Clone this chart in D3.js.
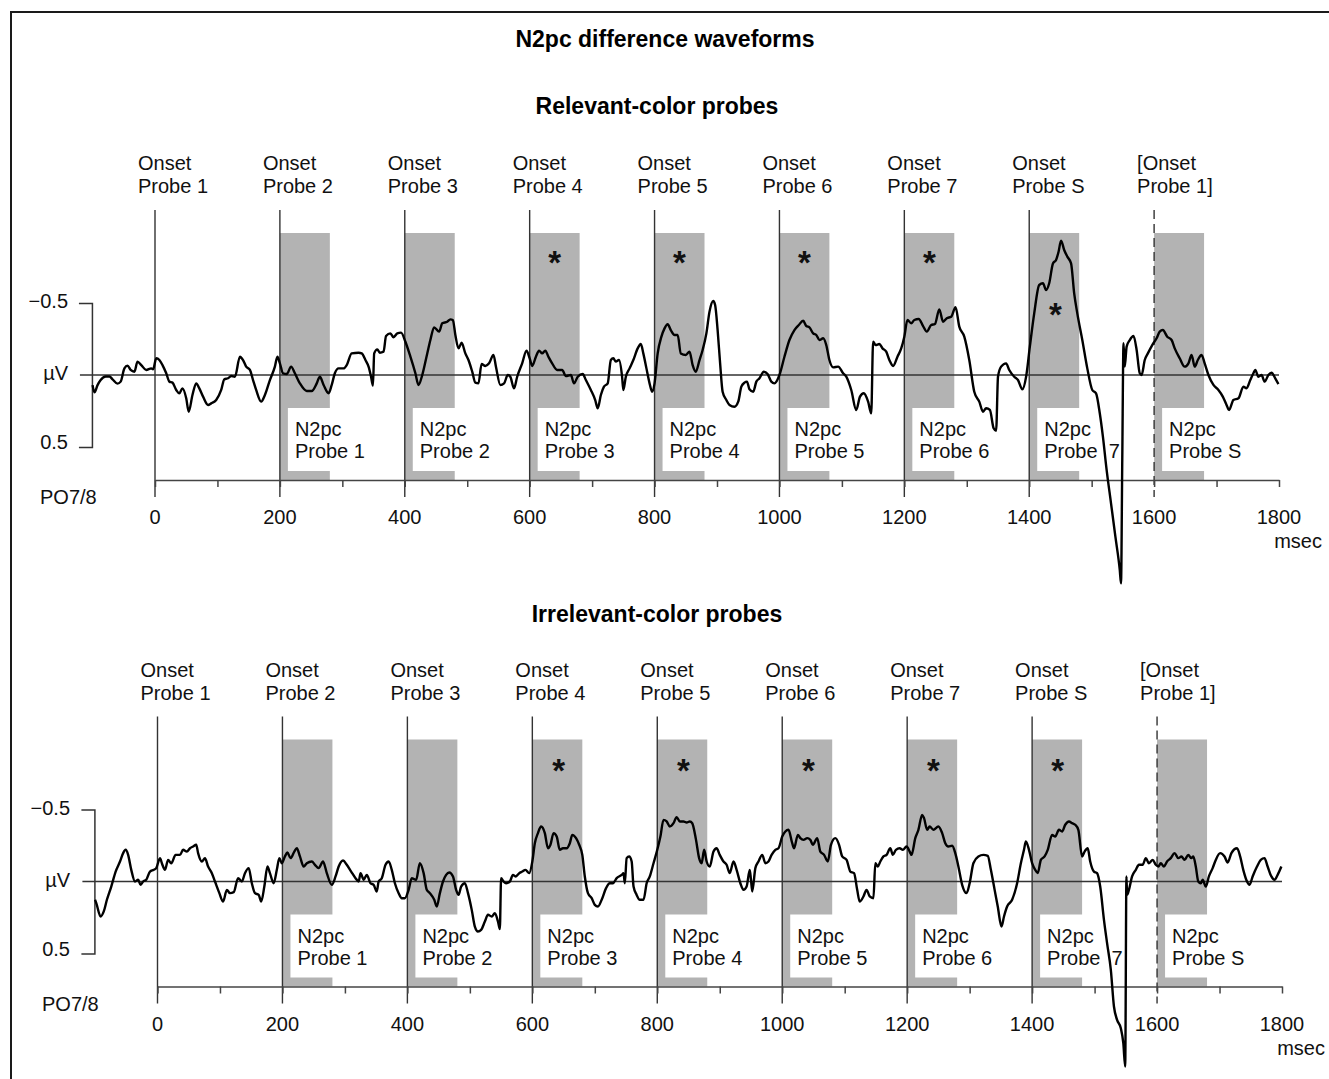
<!DOCTYPE html>
<html><head><meta charset="utf-8">
<script src="https://cdn.jsdelivr.net/npm/d3@7"></script>
<style>
html,body{margin:0;padding:0;background:#fff;}
svg text{font-family:"Liberation Sans",Arial,Helvetica,sans-serif;}
</style></head>
<body>
<svg id="chart" width="1329" height="1079"></svg>
<script>
// ---------------- DATA ----------------
const figureTitle = "N2pc difference waveforms";
const panelTitles = ["Relevant-color probes", "Irrelevant-color probes"];
const onsets = [0, 200, 400, 600, 800, 1000, 1200, 1400, 1600];
const onsetLabels = [["Onset","Probe 1"],["Onset","Probe 2"],["Onset","Probe 3"],["Onset","Probe 4"],["Onset","Probe 5"],["Onset","Probe 6"],["Onset","Probe 7"],["Onset","Probe S"],["[Onset","Probe 1]"]];
const windowStarts = [200, 400, 600, 800, 1000, 1200, 1400, 1600];
const windowLength = 80;
const windowLabels = [["N2pc","Probe 1"],["N2pc","Probe 2"],["N2pc","Probe 3"],["N2pc","Probe 4"],["N2pc","Probe 5"],["N2pc","Probe 6"],["N2pc","Probe  7"],["N2pc","Probe S"]];
const xTickValues = [0,100,200,300,400,500,600,700,800,900,1000,1100,1200,1300,1400,1500,1600,1700,1800];
const xLabelValues = [0,200,400,600,800,1000,1200,1400,1600,1800];
const yTickLabels = ["\u22120.5","\u00b5V","0.5"];
const channelLabel = "PO7/8";
const unitLabel = "msec";
// asterisks: [ms, µV level]
const relevantStars = [[640,-0.83],[840,-0.83],[1040,-0.83],[1240,-0.83],[1442,-0.47]];
const irrelevantStars = [[642,-0.82],[842,-0.82],[1042,-0.82],[1242,-0.82],[1441,-0.82]];

// waveform: [ms, µV]  (negative plotted upward)
const relevantWave = [
[-100,0.07],[-97,0.12],[-92,0.07],[-87,0.035],[-79,0.01],[-73,0.01],[-68,0.03],[-60,0.06],[-55,0.046],[-49,-0.046],[-44,-0.065],[-39,-0.035],[-33,-0.023],[-28,-0.093],[-22,-0.069],[-14,-0.035],[-6,-0.046],[-3,-0.039],
[2,-0.116],[7,-0.104],[12,-0.069],[18,-0.012],[23,0.046],[28,0.053],[34,0.104],[39,0.127],[44,0.093],[50,0.162],[54,0.255],[60,0.139],[66,0.058],[71,0.093],[77,0.150],[85,0.208],[90,0.197],[98,0.174],
[106,0.104],[111,0.03],[117,0.023],[122,0.007],[128,0.012],[136,-0.127],[141,-0.104],[146,-0.058],[152,-0.035],[157,0.035],[162,0.104],[170,0.185],[176,0.139],[184,0.035],[192,-0.058],[196,-0.127],
[200,-0.081],[205,-0.012],[211,-0.007],[218,-0.058],[224,-0.012],[232,0.058],[243,0.111],[251,0.111],[259,0.058],[264,0.012],[270,0.069],[278,0.127],[283,0.069],[288,-0.012],[294,-0.046],
[302,-0.046],[307,-0.069],[315,-0.150],[326,-0.155],[331,-0.150],[337,-0.104],[342,-0.058],[346,0.012],[349,0.074],[351,-0.150],[356,-0.178],[360,-0.155],[366,-0.162],[370,-0.271],[377,-0.289],[382,-0.262],[388,-0.289],[394,-0.294],
[401,-0.231],[409,-0.127],[417,-0.012],[422,0.069],[428,0.0],[436,-0.150],[441,-0.243],[447,-0.331],[455,-0.301],[460,-0.359],[468,-0.370],[473,-0.386],[477,-0.382],[481,-0.278],[486,-0.185],[491,-0.224],[497,-0.150],
[502,-0.104],[508,-0.023],[513,0.053],[518,0.058],[523,-0.076],[529,-0.063],[535,-0.081],[542,-0.139],[546,-0.058],[553,0.069],[559,0.058],[565,0.0],[569,0.012],[575,0.093],[580,0.012],[588,-0.081],[595,-0.169],
[600,-0.116],[604,-0.063],[610,-0.127],[615,-0.169],[620,-0.150],[625,-0.169],[630,-0.127],[636,-0.081],[644,-0.035],[652,-0.035],[658,0.007],[666,0.0],[671,0.058],[677,0.012],[685,-0.007],[690,0.035],[698,0.104],
[705,0.174],[709,0.231],[714,0.139],[719,0.081],[725,0.058],[730,-0.104],[734,-0.116],[738,-0.093],[743,-0.104],[748,0.012],[750,0.104],[754,0.012],[760,-0.046],[766,-0.104],[773,-0.185],[778,-0.215],[782,-0.150],[787,-0.046],[792,0.058],[796,0.116],
[800,0.058],[805,-0.150],[811,-0.266],[816,-0.324],[821,-0.352],[826,-0.312],[832,-0.278],[837,-0.278],[842,-0.150],[850,-0.139],[856,-0.162],[861,-0.069],[866,-0.023],[872,-0.104],[877,-0.174],[883,-0.289],[888,-0.440],[894,-0.514],[897,-0.486],
[901,-0.312],[905,-0.081],[909,0.116],[915,0.174],[920,0.208],[928,0.220],[934,0.185],[939,0.081],[944,0.053],[948,0.046],[952,0.099],[958,0.116],[963,0.046],[968,0.023],[975,-0.023],[981,-0.007],[987,0.046],[992,0.058],
[1000,0.0],[1008,-0.127],[1016,-0.243],[1024,-0.312],[1031,-0.347],[1038,-0.377],[1043,-0.340],[1048,-0.331],[1054,-0.289],[1059,-0.278],[1064,-0.243],[1070,-0.255],[1075,-0.208],[1080,-0.104],[1086,-0.053],[1094,-0.058],
[1102,-0.012],[1107,0.012],[1115,0.104],[1123,0.243],[1129,0.150],[1135,0.127],[1142,0.185],[1147,0.266],[1150,-0.231],[1154,-0.208],[1160,-0.215],[1165,-0.185],[1171,-0.162],[1176,-0.104],[1182,-0.063],[1189,-0.127],[1195,-0.185],
[1200,-0.266],[1205,-0.382],[1211,-0.359],[1216,-0.382],[1223,-0.389],[1230,-0.340],[1236,-0.301],[1243,-0.347],[1249,-0.354],[1256,-0.456],[1262,-0.370],[1268,-0.394],[1275,-0.405],[1282,-0.470],[1288,-0.336],[1296,-0.266],
[1304,-0.104],[1312,0.116],[1320,0.185],[1326,0.255],[1331,0.231],[1337,0.243],[1343,0.370],[1347,0.387],[1350,0.012],[1355,-0.058],[1363,-0.081],[1368,-0.035],[1376,0.012],[1382,0.035],[1389,0.100],[1395,0.012],
[1401,-0.197],[1408,-0.428],[1416,-0.625],[1422,-0.637],[1427,-0.590],[1432,-0.637],[1438,-0.775],[1443,-0.799],[1447,-0.856],[1451,-0.933],[1456,-0.868],[1461,-0.822],[1467,-0.775],[1472,-0.567],[1477,-0.428],[1485,-0.243],[1493,-0.046],
[1501,0.104],[1507,0.127],[1513,0.266],[1518,0.428],[1524,0.660],[1531,0.891],[1538,1.123],[1545,1.354],[1547,1.447],[1549,0.590],[1551,-0.220],[1553,-0.058],[1556,-0.197],[1561,-0.243],[1567,-0.271],[1572,-0.174],[1577,-0.012],[1580,0.0],[1585,-0.104],[1590,-0.150],[1597,-0.208],
[1604,-0.255],[1609,-0.301],[1614,-0.312],[1621,-0.266],[1628,-0.243],[1633,-0.185],[1641,-0.116],[1649,-0.058],[1655,-0.081],[1660,-0.139],[1665,-0.058],[1670,-0.104],[1676,-0.139],[1681,-0.081],[1687,0.0],[1695,0.069],
[1703,0.104],[1710,0.150],[1716,0.208],[1720,0.243],[1727,0.174],[1735,0.162],[1743,0.081],[1748,0.093],[1754,0.035],[1759,-0.012],[1762,-0.035],[1767,0.012],[1772,0.0],[1777,0.046],[1783,0.0],[1788,-0.016],[1794,0.023],[1799,0.063]
];

const irrelevantWave = [
[-100,0.127],[-98,0.150],[-91,0.243],[-86,0.208],[-81,0.127],[-74,0.035],[-67,-0.069],[-60,-0.139],[-55,-0.197],[-51,-0.220],[-47,-0.185],[-42,-0.081],[-36,0.0],[-31,-0.012],[-27,0.023],[-23,0.0],[-18,-0.012],[-12,-0.069],[-6,-0.081],[-2,-0.093],
[4,-0.162],[7,-0.127],[12,-0.081],[17,-0.150],[22,-0.127],[29,-0.185],[36,-0.185],[41,-0.220],[47,-0.208],[52,-0.231],[57,-0.243],[62,-0.255],[65,-0.197],[71,-0.139],[76,-0.162],[81,-0.104],[87,-0.058],[92,0.0],[99,0.081],
[105,0.139],[111,0.058],[116,0.081],[122,0.074],[129,-0.023],[135,0.0],[140,-0.058],[146,-0.093],[151,0.012],[156,0.081],[162,0.093],[166,0.139],[171,0.035],[176,-0.104],[180,-0.058],[186,0.012],[191,-0.081],[195,-0.162],[199,-0.127],
[204,-0.174],[208,-0.201],[213,-0.162],[219,-0.208],[223,-0.231],[228,-0.174],[234,-0.104],[239,-0.127],[247,-0.139],[252,-0.116],[258,-0.093],[265,-0.139],[271,-0.058],[279,0.023],[285,-0.035],[290,-0.104],[297,-0.146],
[303,-0.116],[310,-0.069],[317,-0.023],[322,0.0],[325,-0.058],[330,-0.012],[335,-0.046],[341,0.012],[346,0.023],[351,0.069],[354,0.0],[359,-0.023],[365,-0.116],[370,-0.139],[375,-0.081],[380,0.012],[386,0.081],[391,0.116],[396,0.116],
[402,0.058],[407,-0.023],[414,-0.012],[420,-0.127],[426,-0.058],[431,0.058],[436,0.081],[443,0.127],[447,0.174],[452,0.081],[457,0.0],[462,-0.046],[467,-0.063],[473,-0.035],[478,0.058],[482,0.093],[486,0.035],[492,0.012],[497,0.081],
[503,0.197],[508,0.313],[513,0.347],[518,0.336],[524,0.278],[529,0.231],[535,0.243],[540,0.220],[545,0.278],[548,0.331],[550,-0.023],[554,0.0],[558,0.012],[564,0.0],[569,-0.046],[573,-0.035],[579,-0.058],[584,-0.069],[589,-0.081],[595,-0.058],
[600,-0.139],[604,-0.266],[609,-0.336],[614,-0.382],[620,-0.336],[625,-0.231],[629,-0.255],[634,-0.336],[639,-0.312],[644,-0.220],[649,-0.231],[655,-0.231],[660,-0.266],[664,-0.324],[670,-0.301],[675,-0.255],[680,-0.185],[684,-0.035],[689,0.081],[695,0.116],
[700,0.162],[705,0.174],[711,0.127],[718,0.046],[724,0.012],[729,0.012],[735,-0.023],[743,-0.046],[746,-0.058],[748,0.012],[751,-0.162],[755,-0.174],[759,-0.139],[762,0.035],[767,0.093],[772,0.127],[778,0.127],[783,0.012],[788,-0.035],[794,-0.127],
[800,-0.220],[805,-0.312],[810,-0.428],[815,-0.417],[820,-0.382],[826,-0.405],[831,-0.447],[836,-0.417],[842,-0.417],[847,-0.410],[852,-0.417],[856,-0.405],[862,-0.289],[867,-0.162],[871,-0.127],[875,-0.220],[879,-0.139],[884,-0.104],[890,-0.208],[895,-0.231],
[900,-0.185],[906,-0.139],[911,-0.116],[916,-0.058],[922,-0.139],[927,-0.081],[933,0.012],[938,0.058],[943,0.035],[948,-0.081],[950,-0.012],[952,0.069],[957,-0.093],[962,-0.139],[968,-0.185],[973,-0.127],[978,-0.139],[983,-0.185],[989,-0.220],[994,-0.231],
[1000,-0.312],[1005,-0.347],[1010,-0.359],[1016,-0.266],[1019,-0.231],[1025,-0.324],[1029,-0.301],[1034,-0.289],[1040,-0.301],[1045,-0.289],[1049,-0.255],[1056,-0.301],[1061,-0.208],[1067,-0.185],[1073,-0.139],[1078,-0.255],[1085,-0.301],[1091,-0.255],[1096,-0.174],
[1103,-0.150],[1109,-0.069],[1115,-0.058],[1120,0.058],[1124,0.139],[1130,0.104],[1135,0.058],[1140,0.104],[1146,0.116],[1149,-0.127],[1153,-0.104],[1157,-0.139],[1162,-0.174],[1167,-0.185],[1173,-0.231],[1177,-0.185],[1182,-0.220],[1188,-0.231],[1193,-0.220],[1199,-0.243],
[1204,-0.208],[1207,-0.185],[1213,-0.301],[1218,-0.359],[1224,-0.463],[1227,-0.440],[1232,-0.359],[1236,-0.382],[1242,-0.359],[1250,-0.382],[1256,-0.336],[1261,-0.266],[1266,-0.243],[1272,-0.248],[1277,-0.197],[1282,-0.104],[1288,0.023],[1295,0.081],
[1300,0.012],[1306,-0.127],[1314,-0.174],[1322,-0.185],[1329,-0.178],[1334,-0.081],[1340,0.058],[1345,0.174],[1351,0.313],[1355,0.243],[1360,0.174],[1368,0.127],[1376,0.012],[1382,-0.127],[1387,-0.220],[1390,-0.278],[1395,-0.220],
[1400,-0.127],[1405,-0.081],[1409,-0.058],[1414,-0.150],[1420,-0.174],[1425,-0.220],[1432,-0.324],[1437,-0.312],[1443,-0.359],[1448,-0.347],[1453,-0.394],[1459,-0.417],[1464,-0.405],[1469,-0.394],[1474,-0.359],[1480,-0.174],[1484,-0.208],[1489,-0.231],[1493,-0.139],[1499,-0.069],
[1504,-0.058],[1509,0.035],[1515,0.266],[1520,0.428],[1526,0.613],[1531,0.868],[1536,0.961],[1542,1.019],[1546,1.123],[1549,1.285],[1551,-0.035],[1552,0.093],[1555,0.058],[1560,-0.035],[1566,-0.081],[1571,-0.116],[1577,-0.116],[1582,-0.162],[1587,-0.127],[1593,-0.150],[1598,-0.116],
[1602,-0.104],[1606,-0.127],[1611,-0.104],[1616,-0.139],[1622,-0.162],[1628,-0.197],[1634,-0.162],[1639,-0.174],[1644,-0.150],[1650,-0.185],[1655,-0.162],[1658,-0.174],[1662,-0.104],[1666,0.0],[1670,0.012],[1673,-0.012],[1678,0.035],[1683,-0.035],[1689,-0.093],[1694,-0.150],
[1701,-0.197],[1708,-0.174],[1713,-0.132],[1719,-0.197],[1728,-0.231],[1733,-0.174],[1738,-0.081],[1744,0.0],[1748,0.023],[1753,-0.035],[1760,-0.104],[1766,-0.150],[1772,-0.162],[1777,-0.104],[1783,-0.035],[1788,-0.012],[1793,-0.046],[1799,-0.104]
];

// ---------------- DRAWING ----------------
const svg = d3.select("#chart");

// frame (right/bottom edges run off the picture)
svg.append("rect").attr("x",11).attr("y",12).attr("width",1340).attr("height",1090)
  .attr("fill","none").attr("stroke","#1a1a1a").attr("stroke-width",2);

svg.append("text").attr("x",665).attr("y",47).attr("text-anchor","middle")
  .attr("font-size",23).attr("font-weight","bold").text(figureTitle);

const panels = [
  {title: panelTitles[0], titleY: 114, x0: 155, x1: 1279, zeroY: 375, wave: relevantWave, stars: relevantStars, ylabX: 68},
  {title: panelTitles[1], titleY: 622, x0: 157.5, x1: 1282, zeroY: 881.5, wave: irrelevantWave, stars: irrelevantStars, ylabX: 70}
];

panels.forEach(p => {
  const g = svg.append("g");
  const x = d3.scaleLinear().domain([0,1800]).range([p.x0, p.x1]);
  const pxPerUv = 144;
  const y = d3.scaleLinear().domain([0,1]).range([p.zeroY, p.zeroY + pxPerUv]);
  const axisY = p.zeroY + 105;
  const grayTop = p.zeroY - 142;
  const lineTop = p.zeroY - 165;

  g.append("text").attr("x",657).attr("y",p.titleY).attr("text-anchor","middle")
    .attr("font-size",23).attr("font-weight","bold").text(p.title);

  // gray N2pc windows
  g.selectAll("rect.win").data(windowStarts).join("rect").attr("class","win")
    .attr("x", d => x(d)).attr("y", grayTop)
    .attr("width", d => x(d + windowLength) - x(d)).attr("height", axisY - grayTop)
    .attr("fill","#b3b3b3");
  // white label boxes
  g.selectAll("rect.box").data(windowStarts).join("rect").attr("class","box")
    .attr("x", d => x(d) + 8).attr("y", axisY - 72)
    .attr("width", d => x(d + windowLength) - x(d) - 7).attr("height", 63)
    .attr("fill","#fff");

  // onset lines
  g.selectAll("line.onset").data(onsets).join("line").attr("class","onset")
    .attr("x1", d => x(d)).attr("x2", d => x(d))
    .attr("y1", lineTop).attr("y2", axisY + 17)
    .attr("stroke","#333").attr("stroke-width",1.4)
    .attr("stroke-dasharray", (d,i) => i === onsets.length - 1 ? "9,5" : null);

  // onset labels
  onsets.forEach((o,i) => {
    const t = g.append("text").attr("font-size",20).attr("fill","#111");
    t.append("tspan").attr("x", x(o) - 17).attr("y", p.zeroY - 205).text(onsetLabels[i][0]);
    t.append("tspan").attr("x", x(o) - 17).attr("y", p.zeroY - 182).text(onsetLabels[i][1]);
  });

  // window labels
  windowStarts.forEach((w,i) => {
    const t = g.append("text").attr("font-size",20).attr("fill","#111").style("white-space","pre");
    t.append("tspan").attr("x", x(w) + 15).attr("y", axisY - 44).text(windowLabels[i][0]);
    t.append("tspan").attr("x", x(w) + 15).attr("y", axisY - 22).text(windowLabels[i][1]);
  });

  // asterisks
  g.selectAll("text.star").data(p.stars).join("text").attr("class","star")
    .attr("x", d => x(d[0])).attr("y", d => y(d[1]) + 19)
    .attr("text-anchor","middle").attr("font-size",33).attr("font-weight","bold").attr("fill","#111").text("*");

  // x axis
  const xa = g.append("g").attr("transform",`translate(0,${axisY})`)
    .call(d3.axisBottom(x).tickValues(xTickValues).tickSize(7).tickSizeOuter(0).tickFormat(""));
  xa.select(".domain").attr("stroke","#444").attr("stroke-width",1.5);
  xa.selectAll(".tick line").attr("stroke","#444").attr("stroke-width",1.5);
  g.selectAll("text.xl").data(xLabelValues).join("text").attr("class","xl")
    .attr("x", d => x(d)).attr("y", axisY + 44).attr("text-anchor","middle")
    .attr("font-size",20).attr("fill","#111").text(d => d);
  g.append("text").attr("x", x(1800) + 43).attr("y", axisY + 68).attr("text-anchor","end")
    .attr("font-size",20).attr("fill","#111").text(unitLabel);
  g.append("text").attr("x", p.ylabX - 28).attr("y", p.zeroY + 129)
    .attr("font-size",20).attr("fill","#111").text(channelLabel);

  // y bracket
  const bx = x(-101);
  const yb = d3.scaleLinear().domain([-0.5,0.5]).range([y(-0.5), y(0.5)]);
  const ya = g.append("g").attr("transform",`translate(${bx},0)`)
    .call(d3.axisLeft(yb).tickValues([]).tickSizeOuter(13));
  ya.select(".domain").attr("stroke","#333").attr("stroke-width",1.5);
  g.append("text").attr("x", p.ylabX).attr("y", y(-0.5) + 5).attr("text-anchor","end").attr("font-size",20).attr("fill","#111").text(yTickLabels[0]);
  g.append("text").attr("x", p.ylabX).attr("y", y(0) + 5).attr("text-anchor","end").attr("font-size",20).attr("fill","#111").text(yTickLabels[1]);
  g.append("text").attr("x", p.ylabX).attr("y", y(0.5) + 2).attr("text-anchor","end").attr("font-size",20).attr("fill","#111").text(yTickLabels[2]);

  // zero line
  g.append("line").attr("x1", bx - 12).attr("x2", x(1800)).attr("y1", y(0)).attr("y2", y(0))
    .attr("stroke","#333").attr("stroke-width",1.6);

  // waveform
  const line = d3.line().x(d => x(d[0])).y(d => y(d[1])).curve(d3.curveMonotoneX);
  g.append("path").datum(p.wave).attr("d", line)
    .attr("fill","none").attr("stroke","#000").attr("stroke-width",2.4).attr("stroke-linejoin","round");
});
</script>
</body></html>
